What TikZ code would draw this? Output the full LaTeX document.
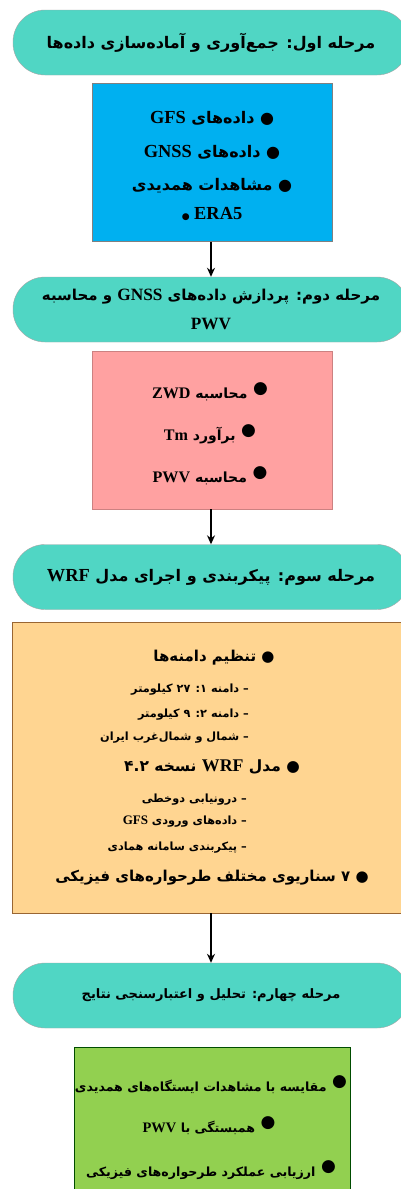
\documentclass[tikz,border=0pt]{standalone}
\usepackage{fontspec}
\setmainfont{DejaVu Sans}
\newfontfamily\farsi[Script=Arabic]{DejaVu Sans}
\newfontfamily\latn[Scale=1.15]{Liberation Serif}
\usetikzlibrary{arrows.meta}
\TeXXeTstate=1
\newcommand\ltr[1]{\beginL{\latn\bfseries #1}\endL}
\newcommand\rtl[1]{{\farsi\bfseries\beginR #1\endR}}
\newcommand\pdot{\raisebox{5pt}{\fontsize{17}{17}\selectfont ●}}
\definecolor{stagecol}{RGB}{80,214,196}
\definecolor{bluecol}{RGB}{0,176,240}
\definecolor{pinkcol}{RGB}{255,161,161}
\definecolor{peachcol}{RGB}{255,213,145}
\definecolor{greencol}{RGB}{146,208,80}
\tikzset{
  stage/.style={draw=gray!70, fill=stagecol, rounded corners=32pt,
    minimum width=396pt, minimum height=65pt, align=center,
    font=\fontsize{16}{29}\selectfont},
  databox/.style={draw=gray, minimum width=240pt, minimum height=158pt},
  item/.style={inner sep=0pt, font=\fontsize{16}{18}\selectfont},
  subitem/.style={inner sep=0pt, anchor=east, font=\fontsize{11.3}{13}\selectfont},
  flow/.style={-{Stealth[length=9pt,width=8pt]}, line width=1.4pt}
}
\begin{document}
\begin{tikzpicture}[x=1pt,y=-1pt]
\clip (0,0) rectangle (401,1189);
\fill[white] (0,0) rectangle (401,1189);
% stage 1
\node[stage] (s1) at (211,42.5) {\rtl{مرحله اول: جمع‌آوری و آماده‌سازی داده‌ها}};
\node[databox, fill=bluecol] (d1) at (212,162.5) {};
\node[item] (gfs) at (212,118) {\rtl{● داده‌های \ltr{GFS}}};
\node[item] (gnss) at (212,152) {\rtl{● داده‌های \ltr{GNSS}}};
\node[item] (obs) at (212,186) {\rtl{● مشاهدات همدیدی}};
\node[item] (era) at (212,214) {\ltr{\fontsize{9}{9}\selectfont\normalfont ●}\ltr{ ERA5}};
% stage 2
\node[stage, font=\fontsize{15}{29}\selectfont] (s2) at (211,309.5) {\rtl{مرحله دوم: پردازش داده‌های \ltr{GNSS} و محاسبه}\\\ltr{PWV}};
\node[databox, fill=pinkcol, draw=pinkcol!80!black] (d2) at (212,430) {};
\node[item] (zwd) at (210,392) {\rtl{\pdot\ {\fontsize{14}{16}\selectfont محاسبه \ltr{ZWD}}}};
\node[item] (tm) at (210,434) {\rtl{\pdot\ {\fontsize{14}{16}\selectfont برآورد \ltr{Tm}}}};
\node[item] (pwv) at (210,476) {\rtl{\pdot\ {\fontsize{14}{16}\selectfont محاسبه \ltr{PWV}}}};
% stage 3
\node[stage] (s3) at (211,577) {\rtl{مرحله سوم: پیکربندی و اجرای مدل \ltr{WRF}}};
\node[databox, fill=peachcol, draw=brown!80!black, minimum width=400pt, minimum height=291pt] (d3) at (212,767.5) {};
\node[item, font=\fontsize{15}{17}\selectfont] (dom) at (214,658) {\rtl{● تنظیم دامنه‌ها}};
\node[subitem] (dom1) at (249,690) {\rtl{– دامنه ۱: \beginL۲۷\endL\ کیلومتر}};
\node[subitem] (dom2) at (249,715) {\rtl{– دامنه ۲: ۹ کیلومتر}};
\node[subitem] (dom3) at (249,738) {\rtl{– شمال و شمال‌غرب ایران}};
\node[item, font=\fontsize{15.5}{17}\selectfont] (wrf) at (212,767) {\rtl{● مدل \ltr{WRF} نسخه \beginL۴.۲\endL}};
\node[subitem] (wrf1) at (247,800) {\rtl{– درونیابی دوخطی}};
\node[subitem] (wrf2) at (247,822) {\rtl{– داده‌های ورودی \ltr{GFS}}};
\node[subitem] (wrf3) at (247,848) {\rtl{– پیکربندی سامانه همادی}};
\node[item, font=\fontsize{15}{17}\selectfont] (phys) at (212,878) {\rtl{● ۷ سناریوی مختلف طرحواره‌های فیزیکی}};
% stage 4
\node[stage] (s4) at (211,995.5) {\rtl{{\fontsize{13}{15}\selectfont مرحله چهارم: تحلیل و اعتبارسنجی نتایج}}};
\node[databox, fill=greencol, draw=green!30!black, minimum width=276pt, minimum height=170pt] (d4) at (212,1132) {};
\node[item] (cmp) at (211,1085) {\rtl{\pdot\ {\fontsize{12.6}{14}\selectfont مقایسه با مشاهدات ایستگاه‌های همدیدی}}};
\node[item] (cor) at (209,1126) {\rtl{\pdot\ {\fontsize{12.6}{14}\selectfont همبستگی با \ltr{PWV}}}};
\node[item] (eval) at (211,1170) {\rtl{\pdot\ {\fontsize{12.6}{14}\selectfont ارزیابی عملکرد طرحواره‌های فیزیکی}}};
% arrows
\draw[flow] (d1.south -| s1.south) -- (s2.north);
\draw[flow] (d2.south -| s2.south) -- (s3.north);
\draw[flow] (d3.south -| s3.south) -- (s4.north);
\end{tikzpicture}
\end{document}
